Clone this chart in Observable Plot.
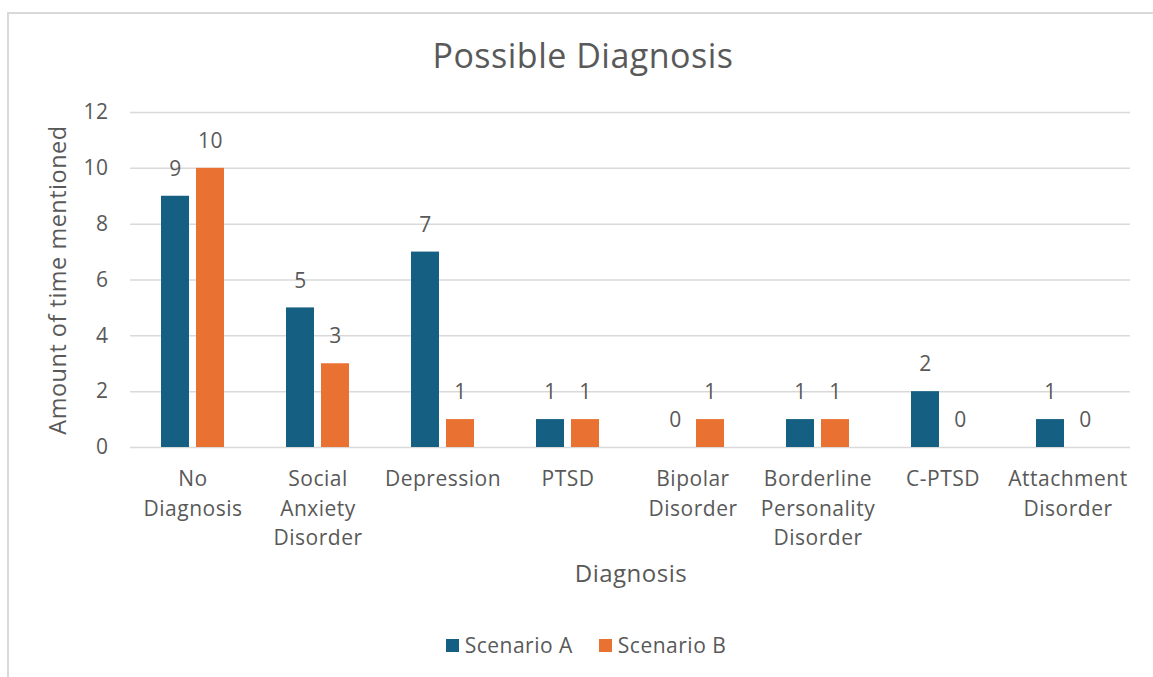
<!DOCTYPE html>
<html>
<head>
<meta charset="utf-8">
<script src="https://cdn.jsdelivr.net/npm/d3@7"></script>
<script src="https://cdn.jsdelivr.net/npm/@observablehq/plot@0.6"></script>
<style>
  html, body { margin: 0; padding: 0; background: #fff; }
  body { width: 1153px; height: 677px; position: relative; overflow: hidden; font-family: "Open Sans", sans-serif; color: #595959; }
  #frame { position: absolute; left: 7px; top: 12px; width: 1300px; height: 800px; border-left: 2px solid #d9d9d9; border-top: 2px solid #d9d9d9; }
  #title { position: absolute; left: 0; width: 1166px; top: 38px; text-align: center; font-size: 34px; line-height: 1; letter-spacing: 0.5px; }
  #chart { position: absolute; left: 0; top: 0; }
  #chart text { letter-spacing: 0.5px; }
  #legend { position: absolute; left: 0; width: 1172px; top: 631px; display: flex; justify-content: center; gap: 26px; font-size: 21px; letter-spacing: 0.5px; }
  .item { display: flex; align-items: center; gap: 6px; }
  .sw { width: 13px; height: 13px; display: inline-block; }
</style>
</head>
<body>
<div id="frame"></div>
<div id="title">Possible Diagnosis</div>
<div id="chart"></div>
<div id="legend"></div>
<script>
const categories = ["No\nDiagnosis", "Social\nAnxiety\nDisorder", "Depression", "PTSD", "Bipolar\nDisorder", "Borderline\nPersonality\nDisorder", "C-PTSD", "Attachment\nDisorder"];
const scenarios = ["Scenario A", "Scenario B"];
const scenarioA = [9, 5, 7, 1, 0, 1, 2, 1];
const scenarioB = [10, 3, 1, 1, 1, 1, 0, 0];
const colors = ["#156082", "#E97132"];
const yTicks = [0, 2, 4, 6, 8, 10, 12];
const yLabel = "Amount of time mentioned";
const xLabel = "Diagnosis";

const data = [];
categories.forEach((c, i) => {
  data.push({cat: c, scenario: scenarios[0], value: scenarioA[i]});
  data.push({cat: c, scenario: scenarios[1], value: scenarioB[i]});
});

const font = "Open Sans, sans-serif";
const plot = Plot.plot({
  width: 1153,
  height: 620,
  marginTop: 112,
  marginBottom: 173,
  marginLeft: 129,
  marginRight: 23,
  style: {fontFamily: font, fontSize: "21px", color: "#595959", background: "transparent"},
  fx: {domain: categories, padding: 0},
  x: {domain: scenarios, axis: null, paddingInner: 0.2, paddingOuter: 0.86},
  y: {domain: [0, 12]},
  color: {domain: scenarios, range: colors},
  marks: [
    Plot.gridY(yTicks, {stroke: "#d9d9d9", strokeOpacity: 1, strokeWidth: 1.5}),
    Plot.axisY(yTicks, {tickSize: 0, tickPadding: 22, fill: "#595959", fontSize: 21, label: null}),
    Plot.axisFx({anchor: "bottom", tickSize: 0, tickPadding: 18, lineHeight: 1.405, fill: "#595959", fontSize: 21, label: null}),
    Plot.barY(data, {fx: "cat", x: "scenario", y: "value", fill: "scenario"}),
    Plot.text(data, {fx: "cat", x: "scenario", y: "value", text: d => String(d.value), dy: -27, fill: "#595959", fontSize: 21})
  ]
});
document.getElementById("chart").appendChild(plot);

// axis titles added into the same svg
const svg = d3.select(plot);
svg.append("text").attr("x", 631).attr("y", 576).attr("text-anchor", "middle").attr("dominant-baseline", "middle")
  .attr("font-size", 24).attr("fill", "#595959").attr("font-family", font).text(xLabel);
svg.append("text").attr("transform", "translate(60,280) rotate(-90)").attr("text-anchor", "middle").attr("dominant-baseline", "middle")
  .attr("font-size", 23.5).attr("fill", "#595959").attr("font-family", font).text(yLabel);

const legend = document.getElementById("legend");
scenarios.forEach((s, i) => {
  const item = document.createElement("div");
  item.className = "item";
  const sw = document.createElement("span");
  sw.className = "sw";
  sw.style.background = colors[i];
  item.appendChild(sw);
  item.appendChild(document.createTextNode(s));
  legend.appendChild(item);
});
</script>
</body>
</html>
